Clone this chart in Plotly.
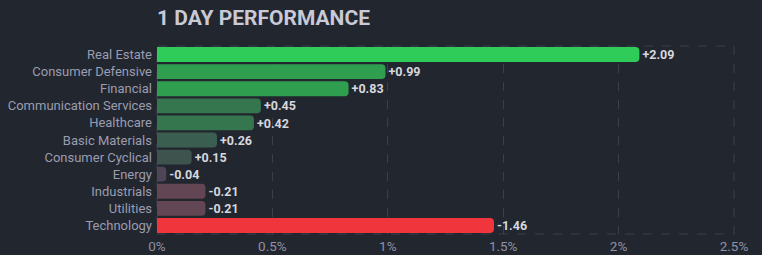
import plotly.graph_objects as go

sectors = ["Real Estate", "Consumer Defensive", "Financial", "Communication Services",
           "Healthcare", "Basic Materials", "Consumer Cyclical", "Energy",
           "Industrials", "Utilities", "Technology"]
changes = [2.09, 0.99, 0.83, 0.45, 0.42, 0.26, 0.15, -0.04, -0.21, -0.21, -1.46]
colors = ["#30cc5a", "#2f9e4f", "#2f9e4f", "#35764e", "#35764e", "#3a5e4f",
          "#3e524e", "#4e4656", "#634653", "#634653", "#f0363c"]
tick_vals = [0, 0.5, 1, 1.5, 2, 2.5]
tick_text = ["0%", "0.5%", "1%", "1.5%", "2%", "2.5%"]

labels = [f"{v:+.2f}" for v in changes]
lengths = [abs(v) for v in changes]

bg = "#22262f"
fig = go.Figure(go.Bar(
    x=lengths, y=sectors, orientation="h",
    marker=dict(color=colors, line=dict(width=0)),
    text=labels, textposition="outside", cliponaxis=False,
    textfont=dict(family="Roboto", size=13.5, color="#d6d7de", weight="bold"),
    hoverinfo="skip",
))
fig.update_layout(
    width=762, height=255, paper_bgcolor=bg, plot_bgcolor=bg,
    margin=dict(l=157, r=28, t=46, b=21),
    bargap=0.13, barcornerradius=4,
    showlegend=False,
    title=dict(text="<b>1 DAY PERFORMANCE</b>", x=157/762, xanchor="left",
               y=1-18/255, yanchor="middle",
               font=dict(family="Roboto", size=21, color="#c9cad6")),
    xaxis=dict(range=[0, 2.5], tickvals=tick_vals, ticktext=tick_text,
               showgrid=True, gridcolor="#3b3f4b", griddash="dash", gridwidth=1,
               zeroline=False, showline=False, automargin=False,
               tickfont=dict(family="Roboto", size=13.5, color="#8e92a6"),
               ticks="", ticklabelstandoff=2, fixedrange=True),
    yaxis=dict(autorange="reversed", showgrid=False, zeroline=False, automargin=False,
               tickfont=dict(family="Roboto", size=13, color="#9a9db0"),
               ticks="", ticklabelstandoff=4, fixedrange=True),
    shapes=[dict(type="rect", xref="paper", yref="paper", x0=0, x1=1, y0=0, y1=1,
                 line=dict(color="#3b3f4b", width=1, dash="dash"), layer="below")],
)
fig.write_html("out.html")
